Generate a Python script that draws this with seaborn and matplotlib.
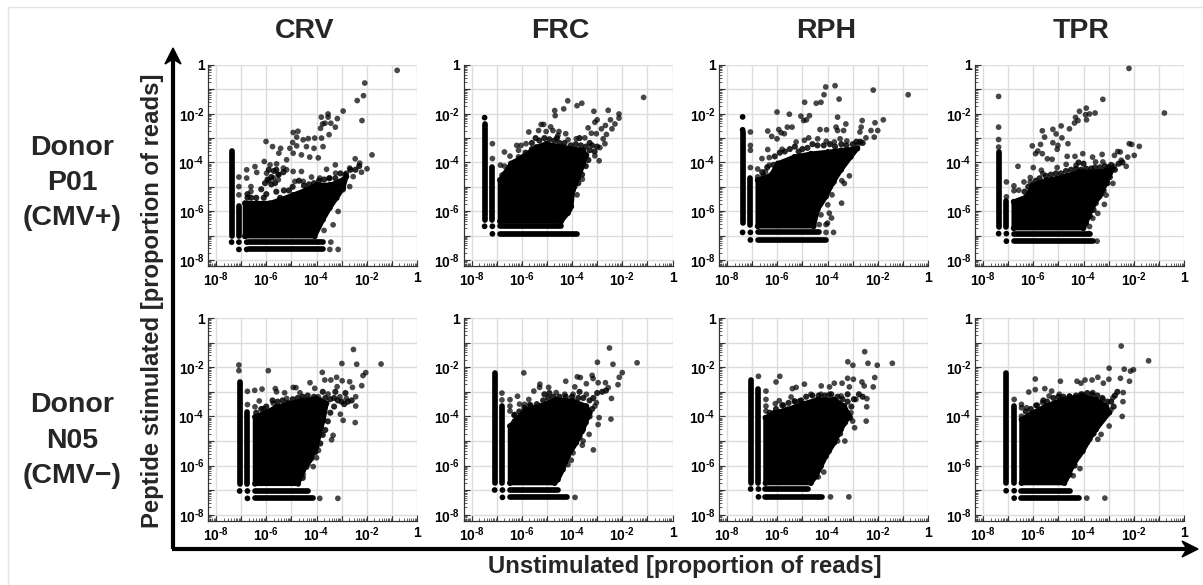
import matplotlib
matplotlib.use("Agg")
import matplotlib.pyplot as plt
from matplotlib.lines import Line2D
from matplotlib.patches import Polygon
from matplotlib.ticker import LogLocator, NullFormatter, FixedLocator, FixedFormatter
import numpy as np
import seaborn as sns

# ---- shared labels ------------------------------------------------------
peptides = ["CRV", "FRC", "RPH", "TPR"]
donors = ["Donor\nP01\n(CMV+)", "Donor\nN05\n(CMV\u2212)"]
decades = [-8, -7, -6, -5, -4, -3, -2, -1, 0]
tick_text = {d: "10$^{\\text{-}%d}$" % abs(d) for d in (-8, -6, -4, -2)}
tick_text[0] = "1"

# All values below are log10(proportion of reads).
# pts = sparse single clones, edge = clones on the fringe of the saturated mass,
# blob = outline of that mass, stack = vertical columns (x, low, high),
# row = horizontal rows (y, x0, x1), dot = lone opaque dots.

# ---- P01 CRV ------------------------------------------------------------
p01_crv_pts_x = [-0.79,-2.08,-2.38,-2.13,-2.19,-2.94,-3.17,-3.54,-3.54,-3.81,-3.76,-3.66,-3.43,-3.25,-3.5,-3.84,-4.93,-4.74,-4.79,-4.95,-6.01,-5.75,-5.43,-5.5,-5.06,-4.79,-4.53,-4.33,-4.07,-3.8,-4.4,-4.1,-3.74,-4.6,-4.93,-4.27,-3.93,-5.19,-6.08,-6.45,-6.78,-7.09,-6.78,-6.38,-5.85,-5.59,-5.32,-5.99,-5.72,-5.52,-5.19,-4.93,-4.6,-4.86,-4.53,-4.2,-3.87,-3.6,-3.25,-3.24,-3.47,-2.46,-2.28,-1.79,-1.99,-2.21,-2.68,-2.81,-2.54,-2.68,-2.94,-3.14,-3.34,-3.7,-3.43,-3.14,-3.47,-7.09,-7.09,-6.61,-6.61,-5.5,-5.9]
p01_crv_pts_y = [-0.22,-0.74,-1.46,-1.26,-2.28,-1.89,-2.2,-2.01,-2.14,-2.14,-2.42,-2.39,-2.39,-2.55,-2.86,-2.6,-2.77,-2.72,-2.96,-3.18,-3.14,-3.35,-3.42,-3.62,-3.42,-3.32,-3.07,-3.02,-3.0,-3.0,-3.35,-3.42,-3.35,-3.69,-3.62,-3.78,-3.81,-3.89,-3.96,-4.17,-4.3,-4.6,-4.64,-4.41,-4.1,-4.06,-4.23,-4.44,-4.64,-4.71,-4.3,-4.37,-4.37,-4.78,-4.78,-4.6,-4.64,-4.28,-4.1,-4.44,-4.64,-3.85,-4.03,-3.69,-4.26,-4.4,-4.23,-4.44,-4.58,-4.99,-5.12,-6.01,-6.56,-6.79,-7.27,-7.57,-7.57,-4.99,-5.33,-4.99,-5.19,-4.5,-4.75]
p01_crv_edge_x = [-5.95,-5.8,-5.65,-5.52,-5.32,-5.7,-5.9,-5.6,-4.95,-5.1,-5.3,-5.6,-5.45,-6.0,-6.2,-6.1,-6.4,-4.7,-4.3,-4.1,-3.5,-3.25,-3.05,-2.85,-2.65,-2.45,-2.3,-3.7,-3.9,-4.5,-5.8,-6.05,-6.75,-6.75,-6.6]
p01_crv_edge_y = [-4.7,-4.9,-4.85,-4.5,-4.4,-4.35,-4.3,-4.3,-5.0,-5.15,-5.15,-5.2,-5.45,-5.3,-5.1,-5.45,-5.45,-4.75,-4.9,-4.85,-4.65,-4.65,-4.45,-4.5,-4.3,-4.3,-4.15,-4.7,-4.75,-4.95,-4.6,-4.85,-5.3,-5.45,-5.45]
p01_crv_blob_x = [-6.85,-6.38,-5.85,-5.46,-4.93,-4.4,-4.0,-3.47,-3.07,-2.81,-2.94,-3.2,-3.47,-3.74,-4.07,-6.85]
p01_crv_blob_y = [-5.67,-5.67,-5.67,-5.53,-5.33,-5.12,-4.92,-4.92,-4.78,-4.58,-5.05,-5.46,-5.87,-6.35,-7.03,-7.03]
p01_crv_stack_x = [-7.38,-7.09]
p01_crv_stack_lo = [-7.03,-7.03]
p01_crv_stack_hi = [-3.55,-5.8]
p01_crv_row_y = [-7.27,-7.57]
p01_crv_row_x0 = [-6.68,-6.68]
p01_crv_row_x1 = [-3.73,-3.73]
p01_crv_dot_x = [-7.38,-7.09,-6.78,-7.09,-6.78]
p01_crv_dot_y = [-7.27,-7.27,-7.27,-7.57,-7.57]

# ---- P01 FRC ------------------------------------------------------------
p01_frc_pts_x = [-1.15,-4.17,-3.8,-3.61,-4.33,-4.69,-4.67,-3.13,-2.56,-2.13,-2.13,-2.47,-3.0,-3.09,-2.29,-2.41,-2.67,-2.83,-3.36,-3.23,-3.03,-2.63,-2.76,-2.69,-2.89,-3.09,-2.92,-5.23,-5.13,-4.85,-5.72,-5.33,-5.03,-4.76,-4.52,-4.25,-4.56,-4.16,-3.83,-3.49,-5.83,-6.2,-6.03,-6.13,-6.69,-6.47,-6.13,-6.85,-6.69,-6.79,-7.17,-7.17,-3.8,-3.96,-3.59,-4.09,-4.29]
p01_frc_pts_y = [-1.33,-1.47,-1.67,-1.57,-1.8,-1.87,-2.08,-1.9,-1.86,-2.01,-2.18,-2.25,-2.25,-2.35,-2.42,-2.62,-2.48,-2.62,-2.58,-2.8,-2.82,-2.85,-3.03,-3.23,-3.39,-3.73,-3.93,-2.44,-2.44,-2.54,-2.75,-2.69,-2.73,-2.69,-2.73,-2.82,-2.89,-3.07,-3.03,-2.99,-3.23,-3.3,-3.3,-3.5,-3.57,-3.74,-3.77,-4.11,-4.15,-4.52,-3.23,-3.84,-5.33,-5.13,-4.69,-5.94,-6.15]
p01_frc_edge_x = [-5.45,-5.3,-5.1,-4.9,-4.7,-4.5,-4.3,-4.05,-3.85,-3.65,-3.45,-3.3,-3.2,-3.0,-3.1,-3.35,-3.45,-3.6,-3.75,-3.9,-4.05,-5.6,-5.85,-6.1,-6.3,-6.55,-6.7,-5.6,-4.6,-3.7,-3.95,-3.3]
p01_frc_edge_y = [-3.0,-3.1,-3.0,-3.05,-3.1,-3.2,-3.2,-3.3,-3.25,-3.3,-3.35,-3.5,-3.3,-3.35,-3.55,-3.9,-4.15,-4.5,-4.85,-5.0,-5.45,-3.45,-3.6,-3.85,-4.0,-4.4,-4.5,-3.2,-3.0,-3.0,-3.55,-3.2]
p01_frc_blob_x = [-6.87,-6.43,-5.96,-5.43,-5.03,-4.36,-3.56,-3.43,-3.56,-3.76,-3.96,-4.03,-4.16,-4.43,-6.87]
p01_frc_blob_y = [-4.72,-4.04,-3.77,-3.37,-3.23,-3.37,-3.5,-3.7,-4.11,-4.65,-5.13,-5.81,-6.08,-6.42,-6.42]
p01_frc_stack_x = [-7.48,-7.17]
p01_frc_stack_lo = [-6.35,-6.35]
p01_frc_stack_hi = [-2.42,-4.18]
p01_frc_row_y = [-6.62,-6.93]
p01_frc_row_x0 = [-6.87,-6.87]
p01_frc_row_x1 = [-4.43,-3.8]
p01_frc_dot_x = [-7.48,-7.48,-7.17,-7.17]
p01_frc_dot_y = [-2.16,-6.62,-6.62,-6.93]

# ---- P01 RPH ------------------------------------------------------------
p01_rph_pts_x = [-0.79,-2.18,-3.7,-4.07,-4.14,-3.54,-4.26,-4.45,-4.91,-6.01,-5.52,-5.06,-4.72,-4.95,-4.84,-3.6,-1.78,-2.62,-2.11,-3.27,-2.66,-2.27,-2.0,-2.14,-2.71,-3.66,-3.6,-3.36,-4.04,-4.3,-5.41,-5.6,-5.94,-6.38,-5.85,-5.72,-6.22,-6.01,-6.38,-5.81,-7.07,-7.07,-7.07,-7.07,-6.78,-6.78,-6.61,-6.32,-6.47,-6.32,-5.25,-4.92,-4.75,-4.39,-4.05,-3.73,-3.5,-3.23,-2.8,-2.47,-3.13,-3.43,-3.33,-3.73,-3.82,-3.99,-3.44,-4.26,-3.93,-3.84,-4.0,-4.33,-4.06,-3.76,-4.06]
p01_rph_pts_y = [-1.22,-1.03,-0.85,-0.9,-1.22,-1.4,-1.53,-1.57,-1.53,-1.93,-2.02,-2.1,-2.08,-2.28,-2.25,-2.14,-2.25,-2.28,-2.37,-2.42,-2.55,-2.69,-2.69,-2.96,-2.75,-2.55,-2.69,-2.69,-2.66,-2.65,-2.55,-2.55,-2.65,-2.71,-2.78,-2.82,-2.93,-3.03,-3.47,-3.46,-2.75,-3.3,-3.5,-4.21,-4.27,-4.59,-3.84,-3.8,-4.38,-4.11,-3.16,-3.09,-2.99,-3.03,-3.13,-3.16,-3.03,-3.12,-3.3,-2.99,-4.55,-4.75,-4.86,-4.79,-5.33,-5.74,-5.67,-6.15,-6.08,-6.28,-6.49,-6.55,-6.55,-6.87,-6.87]
p01_rph_edge_x = [-6.1,-5.9,-5.7,-5.5,-5.3,-5.15,-5.0,-4.8,-4.6,-4.4,-4.15,-3.9,-3.7,-3.45,-3.25,-3.0,-2.85,-2.7,-2.6,-2.9,-3.15,-3.3,-3.55,-3.75,-3.9,-4.1,-6.4,-6.6,-6.15,-5.95,-6.2,-6.55]
p01_rph_edge_y = [-3.75,-3.6,-3.55,-3.45,-3.35,-3.55,-3.45,-3.4,-3.25,-3.3,-3.3,-3.25,-3.35,-3.25,-3.3,-3.25,-3.15,-3.15,-3.2,-3.45,-3.6,-4.0,-4.3,-4.5,-5.0,-5.2,-4.2,-4.4,-4.1,-4.3,-4.5,-4.55]
p01_rph_blob_x = [-6.78,-6.25,-5.98,-5.32,-4.66,-3.99,-3.46,-2.81,-3.07,-3.46,-3.8,-4.06,-4.39,-4.55,-6.78]
p01_rph_blob_y = [-4.72,-4.52,-4.04,-3.77,-3.64,-3.57,-3.5,-3.43,-3.77,-4.31,-4.86,-5.4,-5.94,-6.62,-6.62]
p01_rph_stack_x = [-7.38,-7.07]
p01_rph_stack_lo = [-6.49,-6.55]
p01_rph_stack_hi = [-2.75,-4.65]
p01_rph_row_y = [-6.87,-7.18]
p01_rph_row_x0 = [-6.78,-6.78]
p01_rph_row_x1 = [-4.33,-4.06]
p01_rph_dot_x = [-7.38,-7.38,-7.38,-7.07,-7.07]
p01_rph_dot_y = [-2.13,-2.66,-6.87,-6.87,-7.18]

# ---- P01 TPR ------------------------------------------------------------
p01_tpr_pts_x = [-2.19,-0.78,-7.38,-7.38,-7.38,-7.38,-3.23,-3.89,-4.16,-3.54,-3.76,-3.92,-4.32,-4.22,-4.36,-3.88,-4.89,-4.56,-5.22,-5.64,-5.09,-5.55,-4.86,-5.22,-6.04,-5.71,-5.02,-4.62,-5.05,-5.82,-5.91,-5.64,-5.44,-5.25,-4.65,-4.34,-4.03,-3.64,-3.26,-2.18,-2.08,-1.78,-2.64,-2.54,-2.77,-1.98,-2.24,-6.61,-6.0,-5.68,-5.05,-4.69,-4.3,-3.52,-3.23,-2.5,-2.77,-2.3,-7.07,-6.77,-6.77,-6.58,-6.37,-6.12,-6.12,-7.07,-5.62,-5.35,-3.1,-3.5,-3.17,-3.43,-3.63,-3.76,-3.46,-3.79,-2.83,-3.23]
p01_tpr_pts_y = [-0.14,-1.97,-1.29,-2.55,-3.06,-3.37,-1.41,-1.77,-1.9,-1.97,-2.01,-2.04,-2.15,-2.28,-2.38,-2.25,-2.5,-2.62,-2.64,-2.7,-2.83,-2.96,-2.99,-3.19,-3.32,-3.26,-3.3,-3.23,-3.46,-3.53,-3.64,-3.64,-3.85,-3.87,-3.75,-3.75,-3.64,-3.78,-3.67,-3.23,-3.26,-3.34,-3.55,-3.57,-3.71,-3.71,-3.78,-4.16,-4.21,-4.32,-4.21,-4.08,-4.12,-3.98,-3.98,-3.91,-4.16,-4.16,-4.8,-4.96,-5.16,-5.14,-4.8,-4.8,-4.62,-5.41,-4.46,-4.73,-5.34,-5.68,-5.72,-6.09,-6.29,-6.63,-7.23,-6.92,-4.86,-5.0]
p01_tpr_edge_x = [-6.35,-6.2,-6.05,-5.9,-5.75,-5.5,-5.3,-5.1,-4.9,-4.7,-4.5,-4.3,-4.1,-3.9,-3.7,-3.55,-3.35,-3.15,-3.0,-2.9,-2.75,-2.95,-3.05,-3.2,-3.3,-3.5,-3.6,-3.75,-2.6,-2.45,-4.0,-4.2]
p01_tpr_edge_y = [-5.2,-5.0,-4.95,-4.75,-4.65,-4.55,-4.5,-4.45,-4.45,-4.35,-4.3,-4.25,-4.3,-4.25,-4.25,-4.2,-4.2,-4.15,-4.2,-4.1,-4.3,-4.6,-4.85,-5.15,-5.3,-5.5,-5.95,-6.2,-4.05,-4.0,-4.05,-4.0]
p01_tpr_blob_x = [-6.78,-6.28,-6.01,-5.49,-4.82,-4.16,-3.5,-3.1,-2.83,-3.1,-3.37,-3.63,-3.9,-4.0,-6.78]
p01_tpr_blob_y = [-5.61,-5.41,-4.93,-4.73,-4.59,-4.38,-4.38,-4.32,-4.25,-4.86,-5.41,-5.81,-6.49,-6.7,-6.7]
p01_tpr_stack_x = [-7.38,-7.07]
p01_tpr_stack_lo = [-6.63,-6.63]
p01_tpr_stack_hi = [-3.57,-5.6]
p01_tpr_row_y = [-6.92,-7.23]
p01_tpr_row_x0 = [-6.78,-6.78]
p01_tpr_row_x1 = [-3.76,-3.63]
p01_tpr_dot_x = [-7.38,-7.07,-7.07]
p01_tpr_dot_y = [-6.92,-6.92,-7.23]

# ---- N05 CRV ------------------------------------------------------------
n05_crv_pts_x = [-1.43,-2.53,-2.99,-2.4,-2.04,-2.15,-2.2,-3.77,-3.67,-3.43,-3.2,-2.98,-2.68,-2.57,-3.18,-5.92,-7.09,-7.09,-6.75,-6.46,-6.17,-5.64,-5.59,-5.27,-4.93,-4.82,-4.66,-4.26,-4.07,-3.93,-3.54,-3.07,-2.81,-2.44,-2.44,-2.46,-2.94,-3.05,-3.34,-3.4,-3.92,-4.0,-4.13,-4.33,-4.53,-6.75,-6.45,-6.28,-6.12,-5.72,-5.19,-3.87,-3.15]
n05_crv_pts_y = [-1.87,-1.28,-1.85,-1.88,-2.22,-2.34,-2.75,-2.21,-2.52,-2.52,-2.41,-2.55,-2.59,-2.82,-2.79,-2.14,-1.91,-2.14,-2.98,-2.94,-2.89,-2.87,-3.0,-3.04,-2.82,-2.83,-3.04,-2.63,-2.86,-3.2,-3.09,-3.2,-3.27,-3.2,-3.58,-4.25,-4.16,-3.91,-4.77,-4.95,-5.38,-5.68,-6.04,-5.93,-6.36,-3.52,-3.61,-3.37,-3.68,-3.47,-3.27,-7.33,-7.33]
n05_crv_edge_x = [-6.4,-6.2,-6.0,-5.75,-5.55,-5.35,-5.15,-4.95,-4.75,-4.55,-4.35,-4.1,-3.85,-3.65,-3.45,-3.3,-3.15,-3.0,-2.9,-2.75,-2.6,-3.3,-3.45,-3.55,-3.65,-3.75,-3.85,-4.05,-4.2,-4.4,-4.55,-2.85,-3.25,-3.75]
n05_crv_edge_y = [-3.85,-3.7,-3.6,-3.35,-3.4,-3.35,-3.45,-3.3,-3.25,-3.2,-3.15,-3.2,-3.35,-3.25,-3.3,-3.25,-3.35,-3.4,-3.5,-3.4,-3.35,-3.6,-3.85,-4.2,-4.55,-4.75,-5.1,-5.45,-5.7,-6.05,-6.5,-3.05,-3.0,-3.0]
n05_crv_blob_x = [-6.45,-5.99,-5.59,-5.06,-4.53,-4.0,-3.6,-3.73,-3.87,-4.0,-4.27,-4.53,-4.73,-6.45]
n05_crv_blob_y = [-4.02,-3.82,-3.61,-3.47,-3.34,-3.27,-3.47,-4.16,-4.7,-5.25,-5.79,-6.2,-6.74,-6.74]
n05_crv_stack_x = [-7.06,-6.75]
n05_crv_stack_lo = [-6.74,-6.74]
n05_crv_stack_hi = [-2.59,-3.81]
n05_crv_row_y = [-7.03,-7.33]
n05_crv_row_x0 = [-6.45,-6.45]
n05_crv_row_x1 = [-4.33,-4.16]
n05_crv_dot_x = [-7.06,-6.75,-6.75]
n05_crv_dot_y = [-7.03,-7.03,-7.33]

# ---- N05 FRC ------------------------------------------------------------
n05_frc_pts_x = [-2.51,-1.41,-2.99,-2.37,-2.0,-2.12,-2.17,-5.92,-4.25,-3.79,-3.67,-3.2,-3.16,-2.96,-3.43,-3.89,-2.67,-2.56,-2.43,-2.45,-2.96,-2.92,-3.32,-3.56,-3.59,-3.15,-3.96,-4.03,-4.16,-4.6,-3.88,-4.93,-5.28,-5.29,-6.79,-6.17,-6.47,-5.72,-5.52,-6.09,-5.89,-5.69,-6.29,-6.47,-6.47,-4.63,-4.29,-3.96,-3.43,-3.03,-3.09,-6.79]
n05_frc_pts_y = [-1.22,-1.82,-1.8,-1.88,-2.22,-2.41,-2.71,-2.23,-2.57,-2.39,-2.42,-2.33,-2.46,-2.63,-2.67,-2.8,-2.63,-2.83,-3.27,-4.11,-4.33,-4.05,-4.73,-5.0,-5.17,-5.36,-5.48,-5.78,-5.96,-6.53,-7.29,-2.82,-2.69,-2.82,-3.05,-3.18,-3.32,-3.31,-2.97,-3.5,-3.51,-3.52,-3.92,-3.58,-3.78,-3.03,-3.1,-3.1,-3.1,-3.44,-3.58,-3.33]
n05_frc_edge_x = [-6.3,-6.1,-5.9,-5.65,-5.4,-5.15,-4.95,-4.75,-4.5,-4.25,-4.0,-3.75,-3.55,-3.3,-3.15,-3.0,-2.8,-2.65,-3.2,-3.3,-3.45,-3.6,-3.7,-3.95,-4.1,-4.25,-4.45,-4.6,-5.1,-4.9,-3.7]
n05_frc_edge_y = [-3.95,-3.8,-3.65,-3.55,-3.5,-3.35,-3.25,-3.2,-3.2,-3.2,-3.2,-3.25,-3.25,-3.35,-3.25,-3.05,-3.0,-2.95,-3.7,-4.0,-4.25,-4.6,-4.85,-5.2,-5.45,-5.8,-6.15,-6.35,-3.1,-3.05,-3.0]
n05_frc_blob_x = [-6.47,-6.29,-5.83,-5.29,-4.63,-3.96,-3.43,-3.29,-3.56,-3.83,-4.16,-4.36,-4.56,-4.69,-6.47]
n05_frc_blob_y = [-4.39,-4.19,-3.71,-3.58,-3.31,-3.37,-3.58,-3.85,-4.53,-5.07,-5.62,-6.16,-6.57,-6.71,-6.71]
n05_frc_stack_x = [-7.08,-6.77]
n05_frc_stack_lo = [-6.71,-6.71]
n05_frc_stack_hi = [-2.22,-3.58]
n05_frc_row_y = [-6.99,-7.29]
n05_frc_row_x0 = [-6.47,-6.47]
n05_frc_row_x1 = [-4.56,-4.2]
n05_frc_dot_x = [-7.08,-6.77,-6.77]
n05_frc_dot_y = [-6.99,-6.99,-7.29]

# ---- N05 RPH ------------------------------------------------------------
n05_rph_pts_x = [-2.52,-1.42,-3.19,-2.99,-2.39,-2.02,-2.12,-2.18,-2.43,-2.44,-2.46,-6.75,-5.9,-6.05,-5.4,-5.25,-4.92,-4.25,-3.92,-3.73,-3.42,-3.2,-2.97,-3.13,-2.63,-2.54,-2.87,-3.0,-2.92,-3.31,-3.6,-3.93,-4.15,-4.37,-3.88,-3.15,-5.45,-5.92,-6.08,-5.75,-5.32,-5.12,-4.66,-4.26,-3.93,-3.46,-3.07,-6.45,-6.45,-6.45,-6.45]
n05_rph_pts_y = [-1.37,-1.84,-1.78,-1.92,-1.84,-1.92,-2.42,-2.8,-3.28,-3.61,-4.19,-2.37,-2.37,-2.6,-2.87,-2.82,-2.69,-2.76,-2.8,-2.65,-2.65,-2.45,-2.49,-2.8,-2.6,-2.76,-3.31,-4.19,-4.46,-5.0,-5.0,-5.41,-6.26,-6.46,-7.27,-7.27,-3.21,-3.36,-3.48,-3.54,-3.37,-3.37,-3.1,-3.1,-3.1,-3.17,-3.85,-2.97,-3.31,-3.58,-3.78]
n05_rph_edge_x = [-6.3,-6.05,-5.8,-5.55,-5.3,-5.05,-4.85,-4.6,-4.35,-4.1,-3.85,-3.6,-3.4,-3.2,-3.05,-2.95,-2.75,-2.6,-3.1,-3.3,-3.5,-3.65,-3.85,-4.1,-4.2,-4.35,-4.55,-3.4,-3.2]
n05_rph_edge_y = [-3.85,-3.7,-3.55,-3.45,-3.4,-3.35,-3.2,-3.15,-3.15,-3.15,-3.1,-3.2,-3.3,-3.4,-3.6,-3.3,-3.1,-3.2,-4.05,-4.25,-4.7,-4.85,-5.2,-5.5,-5.8,-6.1,-6.45,-3.85,-3.1]
n05_rph_blob_x = [-6.47,-6.12,-5.59,-5.06,-4.39,-3.73,-3.33,-3.13,-3.46,-3.73,-4.06,-4.26,-4.46,-4.66,-6.47]
n05_rph_blob_y = [-4.05,-3.85,-3.71,-3.51,-3.31,-3.31,-3.58,-3.98,-4.53,-5.07,-5.62,-6.03,-6.44,-6.71,-6.71]
n05_rph_stack_x = [-7.06,-6.75]
n05_rph_stack_lo = [-6.71,-6.71]
n05_rph_stack_hi = [-2.52,-2.9]
n05_rph_row_y = [-6.95,-7.27]
n05_rph_row_x0 = [-6.47,-6.47]
n05_rph_row_x1 = [-4.76,-4.23]
n05_rph_dot_x = [-7.06,-6.75,-6.75]
n05_rph_dot_y = [-6.95,-6.95,-7.27]

# ---- N05 TPR ------------------------------------------------------------
n05_tpr_pts_x = [-2.5,-1.41,-2.98,-2.38,-2.01,-2.13,-2.17,-2.53,-2.42,-2.43,-2.46,-2.91,-2.98,-3.3,-3.43,-3.74,-4.14,-4.41,-3.87,-3.15,-5.92,-5.92,-6.18,-5.54,-4.92,-5.27,-4.26,-3.94,-3.66,-3.43,-3.21,-2.99,-4.1,-6.76,-6.47,-6.47,-6.47,-6.27,-5.9,-5.63,-5.37,-4.96,-4.56,-4.03,-3.63,-3.23,-2.83,-3.3]
n05_tpr_pts_y = [-1.14,-1.74,-2.04,-2.08,-2.1,-2.16,-2.57,-2.45,-3.03,-3.4,-4.0,-3.74,-4.39,-4.73,-4.93,-4.9,-6.12,-6.41,-7.32,-7.32,-2.48,-2.91,-3.01,-2.87,-2.57,-2.97,-2.57,-2.52,-2.52,-2.41,-2.65,-2.49,-2.65,-3.31,-3.51,-3.65,-3.99,-3.65,-3.55,-3.44,-3.17,-3.1,-3.17,-3.1,-3.03,-3.31,-3.24,-3.85]
n05_tpr_edge_x = [-6.3,-6.1,-5.85,-5.6,-5.45,-5.2,-5.0,-4.8,-4.55,-4.3,-4.1,-3.85,-3.65,-3.45,-3.25,-3.05,-2.9,-2.75,-2.65,-2.8,-3.25,-3.45,-3.6,-3.85,-4.05,-4.2,-4.35,-4.55,-4.7,-3.3]
n05_tpr_edge_y = [-3.8,-3.7,-3.55,-3.35,-3.4,-3.25,-3.2,-3.2,-3.2,-3.15,-3.1,-3.05,-3.1,-3.15,-3.25,-3.4,-3.4,-3.15,-3.0,-3.6,-4.1,-4.4,-4.7,-5.05,-5.25,-5.6,-6.0,-6.35,-6.55,-3.7]
n05_tpr_blob_x = [-6.47,-6.03,-5.5,-4.84,-4.03,-3.5,-3.1,-2.97,-3.5,-3.77,-4.03,-4.36,-4.63,-4.76,-6.47]
n05_tpr_blob_y = [-4.12,-3.85,-3.58,-3.31,-3.17,-3.31,-3.58,-3.85,-4.53,-4.94,-5.42,-5.89,-6.44,-6.71,-6.71]
n05_tpr_stack_x = [-7.08,-6.76]
n05_tpr_stack_lo = [-6.71,-6.71]
n05_tpr_stack_hi = [-2.22,-3.58]
n05_tpr_row_y = [-7.02,-7.32]
n05_tpr_row_x0 = [-6.47,-6.47]
n05_tpr_row_x1 = [-4.54,-4.19]
n05_tpr_dot_x = [-7.08,-6.76,-6.76]
n05_tpr_dot_y = [-7.02,-7.02,-7.32]

# ---- figure -------------------------------------------------------------
W, H = 1203, 585
sns.set_theme(style="white")
plt.rcParams.update({
    "font.family": ["Liberation Sans", "DejaVu Sans"],
    "font.weight": "bold",
    "mathtext.fontset": "custom",
    "mathtext.rm": "Liberation Sans:bold",
    "mathtext.it": "Liberation Sans:bold",
    "mathtext.bf": "Liberation Sans:bold",
    "mathtext.default": "rm",
})
fig = plt.figure(figsize=(W / 100, H / 100), dpi=100, facecolor="white")

def fx(px): return px / W
def fy(py): return 1 - py / H

MARK = 17          # scatter size (pt^2)
LINE = 4.1         # width of stacks / rows (pt), about the marker diameter

def pw(a):
    return 10.0 ** np.asarray(a, dtype=float)

def draw_panel(ax, pts_x, pts_y, edge_x, edge_y, blob_x, blob_y, stack_x, stack_lo, stack_hi,
               row_y, row_x0, row_x1, dot_x, dot_y):
    ax.set_xscale("log")
    ax.set_yscale("log")
    ax.set_xlim(10 ** -8.32, 1)
    ax.set_ylim(10 ** -8.25, 1)
    ax.grid(True, which="major", color="#dcdcdc", lw=1.0)
    ax.set_axisbelow(True)
    ax.fill(pw(blob_x), pw(blob_y), color="black", lw=3.2, joinstyle="round", zorder=3)
    sns.scatterplot(x=pw(blob_x), y=pw(blob_y), ax=ax, color="black", s=MARK,
                    edgecolor="none", zorder=3, legend=False)
    for x, lo, hi in zip(stack_x, stack_lo, stack_hi):
        ax.plot([10.0 ** x] * 2, [10.0 ** lo, 10.0 ** hi], color="black", lw=LINE,
                solid_capstyle="round", zorder=3)
    for y, x0, x1 in zip(row_y, row_x0, row_x1):
        ax.plot([10.0 ** x0, 10.0 ** x1], [10.0 ** y] * 2, color="black", lw=LINE,
                solid_capstyle="round", zorder=3)
    sns.scatterplot(x=pw(dot_x), y=pw(dot_y), ax=ax, color="black", s=MARK,
                    edgecolor="none", zorder=3, legend=False)
    sns.scatterplot(x=pw(edge_x), y=pw(edge_y), ax=ax, color="black", s=MARK * 1.15, alpha=0.85,
                    edgecolor="none", zorder=4, legend=False)
    sns.scatterplot(x=pw(pts_x), y=pw(pts_y), ax=ax, color="black", s=MARK, alpha=0.72,
                    edgecolor="none", zorder=4, legend=False)
    for side in ("top", "right"):
        ax.spines[side].set_visible(False)
    for side in ("left", "bottom"):
        ax.spines[side].set_color("#333333")
        ax.spines[side].set_linewidth(0.9)
    locs = [10.0 ** d for d in decades]
    labels = [tick_text.get(d, "") for d in decades]
    for axis in (ax.xaxis, ax.yaxis):
        axis.set_major_locator(FixedLocator(locs))
        axis.set_major_formatter(FixedFormatter(labels))
        axis.set_minor_locator(LogLocator(base=10, subs=np.arange(2, 10), numticks=12))
        axis.set_minor_formatter(NullFormatter())
    ax.tick_params(which="both", bottom=True, left=True, top=False, right=False)
    ax.tick_params(which="major", direction="in", length=4.5, width=0.8, color="#333333",
                   labelsize=10, pad=3.5, labelcolor="black")
    ax.tick_params(which="minor", direction="in", length=2.2, width=0.6, color="#444444")
    ax.tick_params(axis="y", which="major", pad=2.5)
    ax.set_xlabel("")
    ax.set_ylabel("")

# panel placement, pixels of the right edge and of top/bottom
right_edges = [417, 672.5, 928, 1184]
rows = [(65, 266), (318, 521)]
PW = 209

def panel_args(p):
    g = globals()
    names = ["pts_x", "pts_y", "edge_x", "edge_y", "blob_x", "blob_y", "stack_x", "stack_lo",
             "stack_hi", "row_y", "row_x0", "row_x1", "dot_x", "dot_y"]
    return [g[p + "_" + n] for n in names]

panels = [["p01_crv", "p01_frc", "p01_rph", "p01_tpr"], ["n05_crv", "n05_frc", "n05_rph", "n05_tpr"]]

for r, (top, bottom) in enumerate(rows):
    for c, right in enumerate(right_edges):
        ax = fig.add_axes([fx(right - PW), fy(bottom), PW / W, (bottom - top) / H], facecolor="white")
        draw_panel(ax, *panel_args(panels[r][c]))

# column titles, row titles, axis titles
TITLE = 20.5
for text, px in zip(peptides, [305, 560, 826, 1081]):
    fig.text(fx(px), fy(30.5), text, ha="center", va="center", fontsize=TITLE, fontweight="bold")
for text, py in zip(donors, [183, 440.5]):
    fig.text(fx(72), fy(py), text, ha="center", va="center", fontsize=TITLE,
             fontweight="bold", linespacing=1.47)
fig.text(fx(153), fy(300.5), "Peptide stimulated [proportion of reads]", rotation=90,
         ha="center", va="center", fontsize=17.2, fontweight="bold")
fig.text(fx(685), fy(567), "Unstimulated [proportion of reads]", ha="center", va="center",
         fontsize=17.2, fontweight="bold")

# the two axis arrows and the faint page frame
fig.add_artist(Line2D([fx(173), fx(173)], [fy(549), fy(60)], color="black", lw=3, solid_capstyle="butt"))
fig.add_artist(Line2D([fx(171.5), fx(1186)], [fy(549), fy(549)], color="black", lw=3, solid_capstyle="butt"))
fig.add_artist(Polygon([[fx(173), fy(48)], [fx(181), fy(64)], [fx(173), fy(59)], [fx(165), fy(64)]],
                       closed=True, color="black", transform=fig.transFigure))
fig.add_artist(Polygon([[fx(1198), fy(549)], [fx(1182), fy(541)], [fx(1187), fy(549)], [fx(1182), fy(557)]],
                       closed=True, color="black", transform=fig.transFigure))
fig.add_artist(Line2D([fx(7.5), fx(7.5)], [fy(585), fy(6.5)], color="#e4e4e4", lw=1))
fig.add_artist(Line2D([fx(7.5), fx(1203)], [fy(6.5), fy(6.5)], color="#e4e4e4", lw=1))

fig.savefig("out.png", dpi=100, facecolor="white")
